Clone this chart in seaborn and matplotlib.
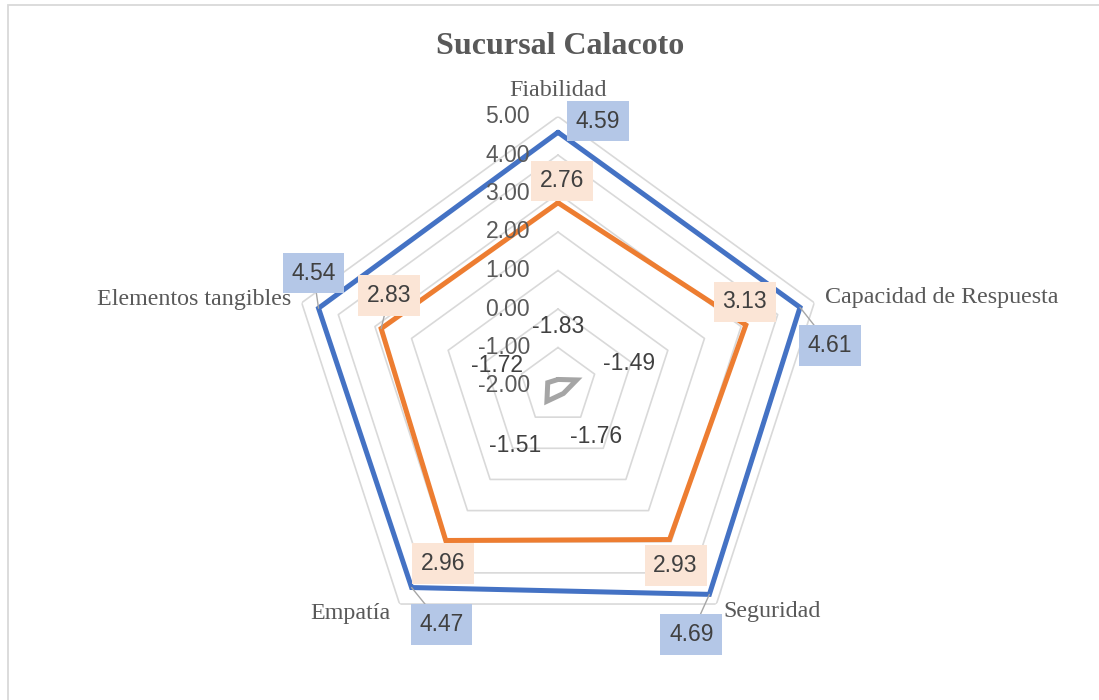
import numpy as np
import pandas as pd
import matplotlib
matplotlib.use("Agg")
import matplotlib.pyplot as plt
from matplotlib.patches import Rectangle
import seaborn as sns

# ---- data ----
categories = ["Fiabilidad", "Capacidad de Respuesta", "Seguridad", "Empatía", "Elementos tangibles"]
serie_azul = [4.59, 4.61, 4.69, 4.47, 4.54]
serie_naranja = [2.76, 3.13, 2.93, 2.96, 2.83]
serie_gris = [-1.83, -1.49, -1.76, -1.51, -1.72]
tick_values = [-2, -1, 0, 1, 2, 3, 4, 5]
title = "Sucursal Calacoto"

sns.set_theme(style="white")
plt.rcParams["font.family"] = ["Liberation Sans", "DejaVu Sans"]

W, H, DPI = 1099, 700, 100
fig = plt.figure(figsize=(W / DPI, H / DPI), dpi=DPI)
fig.patch.set_facecolor("white")

# chart-area border (open at right and bottom)
fig.add_artist(Rectangle((8 / W, -0.2), 2.0, 1.2 - 5 / H, transform=fig.transFigure,
                         fill=False, edgecolor="#D9D9D9", linewidth=1.3))

# polar plot area: centre (558, 386) px, radius 269.5 px
cx, cy, R = 558, 386, 269.5
ax = fig.add_axes([(cx - R) / W, (H - cy - R) / H, 2 * R / W, 2 * R / H], projection="polar")
ax.set_theta_zero_location("N")
ax.set_theta_direction(-1)
ax.set_ylim(tick_values[0], tick_values[-1])
ax.grid(False)
ax.spines["polar"].set_visible(False)
ax.set_xticks([])
ax.set_yticks([])
ax.patch.set_alpha(0)

n = len(categories)
theta = np.arange(n) * 2 * np.pi / n
theta_closed = np.append(theta, theta[0])

# pentagonal gridlines
for v in tick_values[1:]:
    ax.plot(theta_closed, [v] * (n + 1), color="#D9D9D9", lw=1.2, zorder=1)

def ring(values):
    return pd.DataFrame({"theta": theta_closed, "value": list(values) + [values[0]]})

for vals, col in [(serie_gris, "#A5A5A5"), (serie_naranja, "#ED7D31"), (serie_azul, "#4472C4")]:
    sns.lineplot(data=ring(vals), x="theta", y="value", sort=False, estimator=None,
                 color=col, lw=3.6, ax=ax, solid_joinstyle="miter", zorder=3)
ax.set_xlabel("")
ax.set_ylabel("")
ax.set_ylim(tick_values[0], tick_values[-1])

# radial tick labels along the top axis
for v in tick_values:
    ax.annotate(f"{v:.2f}", xy=(0, v), xytext=(-28, 0), textcoords="offset pixels",
                ha="right", va="center", fontsize=16.5, color="#595959", zorder=4)

# category labels
serif = ["Liberation Serif", "DejaVu Serif"]
cat_pos = [((0, 26), "center", "center"),
           ((11, 5), "left", "center"),
           ((7, -7), "left", "center"),
           ((-9, -9), "right", "center"),
           ((-10, 3), "right", "center")]
for t, name, (off, ha, va) in zip(theta, categories, cat_pos):
    ax.annotate(name, xy=(t, tick_values[-1]), xytext=off, textcoords="offset pixels",
                ha=ha, va=va, fontsize=17.3, color="#595959", family=serif)

leader = dict(arrowstyle="-", color="#A6A6A6", lw=1, shrinkA=0, shrinkB=0)

def labels(values, offsets, face, leaders):
    for t, v, off, lead in zip(theta, values, offsets, leaders):
        kw = {}
        if face is not None:
            kw["bbox"] = dict(boxstyle="square,pad=0.38", fc=face, ec="none")
        if lead:
            kw["arrowprops"] = leader
        ax.annotate(f"{v:.2f}", xy=(t, v), xytext=off, textcoords="offset pixels",
                    ha="center", va="center", fontsize=16.5, color="#404040", zorder=6, **kw)

labels(serie_azul, [(40, 11), (30, -38), (-18, -40), (30, -37), (-5, 35)], "#B4C7E7",
       [False, True, True, True, True])
labels(serie_naranja, [(4, 22), (-1, 23), (6, -26), (-3, -23), (8, 33)], "#FBE5D6",
       [False, False, False, False, True])
labels(serie_gris, [(0, 53), (52, 16), (33, -43), (-32, -44), (-51, 17)], None,
       [False] * 5)

fig.text(560 / W, 1 - 46 / H, title, ha="center", va="center", fontsize=23,
         fontweight="bold", color="#595959", family=serif)

fig.savefig("out.png", dpi=DPI, facecolor="white")
